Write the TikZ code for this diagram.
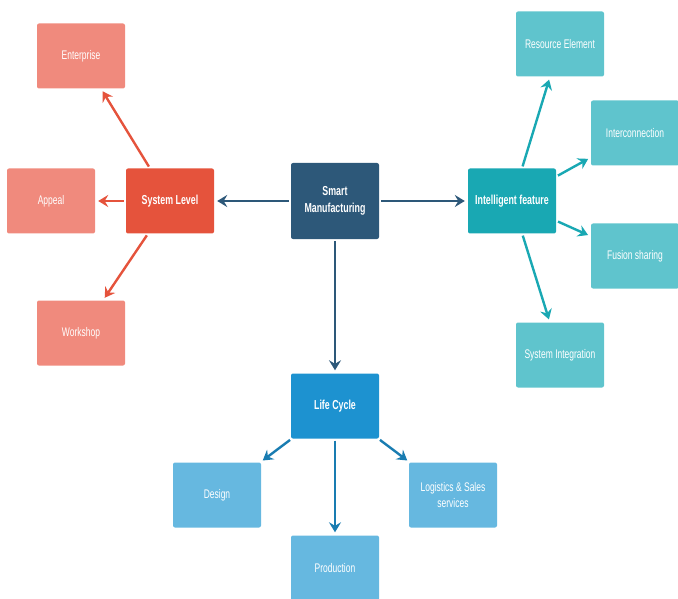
\documentclass[tikz,border=0pt]{standalone}
\usepackage{fontspec}
\setmainfont{Liberation Sans}[FakeStretch=0.68]
\usetikzlibrary{arrows.meta}

\definecolor{smartblue}{HTML}{2D5879}
\definecolor{sysred}{HTML}{E5533C}
\definecolor{sysredlight}{HTML}{F08A7D}
\definecolor{featteal}{HTML}{19A8B3}
\definecolor{featteallight}{HTML}{5FC4CD}
\definecolor{lifeblue}{HTML}{1D92D0}
\definecolor{lifebluelight}{HTML}{66B8E0}

\begin{document}
\begin{tikzpicture}[x=1pt,y=-1pt,
  box/.style={rectangle,rounded corners=2pt,minimum width=88pt,minimum height=65pt,
    inner sep=2pt,text=white,align=center,font=\fontsize{12.5}{16}\selectfont},
  mainbox/.style={box,font=\bfseries\fontsize{13}{17}\selectfont},
  arr/.style={line width=2.4pt,-{Stealth[length=10pt,width=12pt,inset=3.5pt]},
    shorten >=3pt,shorten <=2pt}]

\useasboundingbox (0,0) rectangle (678,599);

% definitions
\node[mainbox,fill=smartblue,minimum height=76pt] (smart) at (335,201){Smart\\Manufacturing};
\node[mainbox,fill=sysred] (syslevel) at (170,201){System Level};
\node[mainbox,fill=featteal] (intfeat) at (512,201){Intelligent feature};
\node[mainbox,fill=lifeblue] (lifecycle) at (335,406){Life Cycle};

% system level
\node[box,fill=sysredlight] (enterprise) at (81,56){Enterprise};
\node[box,fill=sysredlight] (appeal) at (51,201){Appeal};
\node[box,fill=sysredlight] (workshop) at (81,333){Workshop};

% intelligent feature
\node[box,fill=featteallight] (resource) at (560,44){Resource Element};
\node[box,fill=featteallight] (interconn) at (635,133){Interconnection};
\node[box,fill=featteallight] (fusion) at (635,256){Fusion sharing};
\node[box,fill=featteallight] (sysint) at (560,355){System Integration};

% life cycle
\node[box,fill=lifebluelight] (design) at (217,495){Design};
\node[box,fill=lifebluelight] (production) at (335,568){Production};
\node[box,fill=lifebluelight] (logistics) at (453,495){Logistics \& Sales\\services};

% drawing
\draw[arr,smartblue] (smart) -- (syslevel);
\draw[arr,smartblue] (smart) -- (intfeat);
\draw[arr,smartblue] (smart) -- (lifecycle);

\draw[arr,sysred] (syslevel) -- (enterprise);
\draw[arr,sysred] (syslevel) -- (appeal);
\draw[arr,sysred] (syslevel) -- (workshop);

\draw[arr,featteal] (intfeat) -- (resource);
\draw[arr,featteal] (intfeat) -- (interconn);
\draw[arr,featteal] (intfeat) -- (fusion);
\draw[arr,featteal] (intfeat) -- (sysint);

\draw[arr,lifeblue!85!black] (lifecycle) -- (design);
\draw[arr,lifeblue!85!black] (lifecycle) -- (production);
\draw[arr,lifeblue!85!black] (lifecycle) -- (logistics);
\end{tikzpicture}
\end{document}
